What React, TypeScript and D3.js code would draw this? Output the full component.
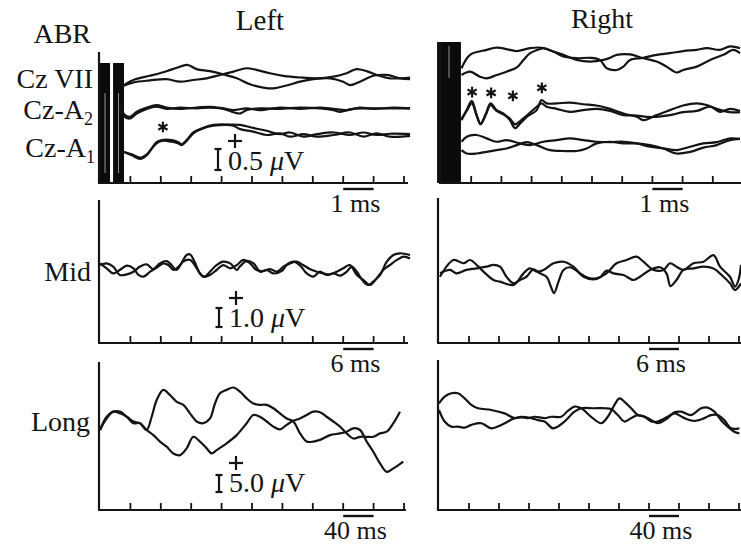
import * as d3 from 'd3';

// ---- data: [time (ms), amplitude (µV)] ----
const abrChannels = ['Cz VII', 'Cz-A2', 'Cz-A1'];

const abrLeftVII_1 = [[0.71,-0.16],[1.1,0],[1.64,0.1],[2.19,0.21],[2.52,0.29],[2.87,0.36],[3.18,0.26],[3.62,0.21],[4.06,0.13],[4.5,0.04],[4.93,-0.1],[5.37,-0.18],[5.7,-0.2],[6.14,-0.13],[6.58,-0.04],[7.02,0.02],[7.57,0.04],[8.0,-0.04],[8.22,-0.12],[8.55,-0.04],[8.99,0.1],[9.43,0.12],[9.87,0.04],[10.2,0.02]];
const abrLeftVII_2 = [[0.71,-0.16],[1.1,-0.06],[1.64,-0.01],[2.19,0.02],[2.63,-0.04],[3.07,0],[3.51,0.04],[3.95,0.12],[4.39,0.2],[4.82,0.28],[5.15,0.24],[5.59,0.16],[6.03,0.1],[6.58,0.06],[7.13,0.04],[7.68,0.08],[8.11,0.16],[8.44,0.26],[8.77,0.21],[9.1,0.12],[9.54,0.04],[10.2,0.06]];
const abrLeftA2_1 = [[0.66,0.07],[0.82,-0.21],[0.99,-0.25],[1.21,-0.13],[1.54,-0.02],[1.86,0.03],[2.19,-0.02],[2.63,0.01],[3.18,-0.01],[3.62,0.01],[4.06,-0.02],[4.39,-0.1],[4.61,-0.13],[4.82,-0.05],[5.26,-0.01],[5.92,-0.02],[6.58,0.01],[7.24,-0.01],[7.68,-0.05],[7.89,-0.09],[8.33,-0.02],[8.99,-0.01],[9.65,-0.01],[10.2,-0.01]];
const abrLeftA2_2 = [[0.66,0.07],[0.82,-0.17],[0.99,-0.21],[1.21,-0.09],[1.54,0.01],[1.86,0.07],[2.19,0.01],[2.63,-0.02],[3.18,0.01],[3.62,0.03],[4.06,-0.01],[4.39,-0.05],[4.82,-0.01],[5.26,-0.05],[5.92,0.01],[6.58,-0.02],[7.24,0.01],[7.68,-0.02],[8.11,-0.05],[8.55,0.01],[8.99,-0.02],[9.65,0.01],[10.2,-0.01]];
const abrLeftA1_1 = [[0.77,-0.4],[1.04,-0.48],[1.32,-0.57],[1.54,-0.48],[1.7,-0.32],[1.86,-0.17],[2.03,-0.12],[2.36,-0.12],[2.58,-0.17],[2.69,-0.22],[2.85,-0.12],[3.07,0.06],[3.4,0.17],[3.73,0.24],[4.17,0.25],[4.61,0.24],[5.04,0.17],[5.48,0.1],[5.92,0.02],[6.25,0.06],[6.69,-0.04],[7.13,0.02],[7.68,0.06],[8.22,0],[8.66,0.06],[9.1,0],[9.54,0.03],[10.2,0.02]];
const abrLeftA1_2 = [[0.77,-0.4],[1.04,-0.46],[1.32,-0.54],[1.54,-0.46],[1.7,-0.33],[1.86,-0.2],[2.03,-0.14],[2.36,-0.16],[2.58,-0.2],[2.69,-0.24],[2.85,-0.14],[3.07,0.04],[3.4,0.16],[3.73,0.22],[4.17,0.24],[4.39,0.22],[4.61,0.14],[5.04,0.08],[5.48,0],[5.92,0.04],[6.25,-0.04],[6.69,0.02],[7.13,-0.04],[7.68,0],[8.22,0.06],[8.66,-0.04],[9.1,0.04],[9.54,-0.04],[10.2,-0.02]];

const abrRightVII_1 = [[0.68,-0.15],[0.96,0.17],[1.51,0.29],[1.84,0.34],[2.28,0.29],[2.51,0.26],[2.95,0.33],[3.33,0.34],[3.72,0.25],[4.05,0.13],[4.49,0.09],[4.93,0.1],[5.26,0.05],[5.49,-0.15],[5.82,-0.19],[6.04,-0.11],[6.26,0.05],[6.7,0.1],[7.14,0.17],[7.58,0.21],[8.02,0.26],[8.47,0.29],[8.8,0.33],[9.24,0.29],[9.57,0.37],[9.9,0.33]];
const abrRightVII_2 = [[0.68,-0.31],[0.96,-0.23],[1.29,-0.35],[1.51,-0.39],[1.84,-0.31],[2.17,-0.23],[2.51,-0.13],[2.73,0.05],[2.95,0.21],[3.28,0.31],[3.39,0.33],[3.72,0.25],[4.05,0.17],[4.49,0.05],[4.93,0.01],[5.38,0.05],[5.6,0.1],[5.82,0.17],[6.26,0.18],[6.7,0.09],[7.14,0.01],[7.47,-0.11],[7.8,-0.25],[8.02,-0.19],[8.47,-0.11],[8.91,0.05],[9.35,0.17],[9.68,0.29],[9.9,0.21]];
const abrRightA2_1 = [[0.68,-0.29],[0.85,-0.05],[1.02,0.17],[1.18,-0.17],[1.31,-0.39],[1.49,-0.13],[1.64,0.11],[1.84,-0.05],[2.06,-0.13],[2.28,-0.29],[2.45,-0.48],[2.62,-0.37],[2.84,-0.21],[3.17,-0.05],[3.33,0.19],[3.5,0.11],[3.83,0.11],[4.27,0.13],[4.71,0.09],[5.15,0.06],[5.6,-0.02],[6.04,-0.13],[6.48,-0.21],[6.7,-0.29],[7.14,-0.17],[7.58,-0.05],[8.02,0.06],[8.47,0.11],[8.8,0.07],[9.13,-0.02],[9.57,-0.1],[9.9,-0.1]];
const abrRightA2_2 = [[0.68,-0.25],[0.85,-0.07],[1.02,0.11],[1.18,-0.18],[1.31,-0.37],[1.49,-0.15],[1.64,0.07],[1.84,-0.07],[2.06,-0.15],[2.28,-0.25],[2.45,-0.39],[2.62,-0.31],[2.84,-0.18],[3.17,0.03],[3.33,0.11],[3.5,0.03],[3.83,-0.02],[4.27,-0.09],[4.71,-0.05],[5.15,-0.02],[5.6,-0.07],[6.04,-0.17],[6.48,-0.18],[6.81,-0.21],[7.14,-0.21],[7.58,-0.17],[8.02,-0.1],[8.47,-0.07],[8.91,0.03],[9.24,-0.09],[9.57,-0.02],[9.9,-0.07]];
const abrRightA1_1 = [[0.68,0.03],[0.85,0.15],[1.18,0.19],[1.51,0.11],[1.84,0.03],[2.17,0.07],[2.62,-0.01],[2.95,-0.05],[3.39,0.03],[3.83,0.07],[4.27,0.11],[4.71,0.07],[5.15,0.03],[5.6,0.02],[6.04,0.03],[6.48,-0.01],[6.92,-0.09],[7.36,-0.13],[7.8,-0.17],[8.25,-0.09],[8.69,-0.01],[9.13,0.02],[9.57,0.11],[9.9,0.1]];
const abrRightA1_2 = [[0.68,-0.17],[0.85,-0.25],[1.18,-0.25],[1.51,-0.21],[1.84,-0.17],[2.17,-0.13],[2.51,-0.05],[2.84,0.02],[3.17,-0.05],[3.61,-0.17],[4.05,-0.19],[4.49,-0.19],[4.82,-0.13],[5.15,-0.01],[5.6,0.03],[6.04,-0.01],[6.48,-0.01],[6.92,-0.05],[7.36,-0.13],[7.8,-0.25],[8.25,-0.21],[8.69,-0.11],[9.13,-0.05],[9.57,0.07],[9.9,0.1]];

const midLeft_1 = [[0,0.35],[1.3,0.09],[2.6,-0.18],[3.9,0],[5.3,0.23],[6.6,0.09],[7.6,-0.26],[8.6,-0.35],[9.9,-0.09],[11.5,0.18],[12.5,0.35],[13.5,0.26],[14.5,0],[15.8,0.26],[17.1,0.79],[17.8,0.82],[18.8,0.35],[19.7,-0.18],[20.7,-0.35],[21.7,-0.09],[23.0,0.26],[24.3,0.44],[25.7,0.35],[27.0,0],[27.6,0.18],[28.9,0.47],[30.3,0.35],[31.6,-0.09],[32.9,0],[34.2,-0.18],[35.9,-0.05],[36.8,0.26],[38.2,0.44],[39.5,0.23],[40.8,-0.18],[42.1,-0.35],[43.4,-0.09],[44.7,-0.26],[46.1,-0.18],[47.4,-0.3],[48.7,-0.09],[49.7,0.18],[50.7,-0.09],[52.0,-0.61],[53.0,-0.79],[53.9,-0.61],[55.3,-0.26],[56.6,0.44],[57.9,0.79],[59.2,0.88],[61.2,0.79]];
const midLeft_2 = [[0,0.26],[1.3,0.35],[2.6,0.18],[3.9,-0.26],[5.3,-0.23],[6.6,-0.09],[7.9,0.18],[9.2,0.3],[10.5,0.05],[11.8,0.35],[13.2,0.47],[14.1,0.26],[15.1,0],[16.4,0.44],[17.8,0.53],[19.1,0.09],[20.4,-0.35],[21.7,-0.26],[23.0,0],[24.3,0.26],[25.7,0.09],[27.0,0.26],[28.3,0.53],[29.6,0.35],[30.9,0],[32.2,-0.05],[33.6,0.05],[34.9,-0.09],[36.2,0.18],[37.5,0.35],[38.8,0.44],[40.1,0.26],[41.4,0.05],[42.8,-0.09],[44.1,-0.18],[45.4,-0.23],[46.7,-0.09],[48.0,0.09],[49.3,0.26],[50.7,-0.26],[52.0,-0.53],[53.3,-0.79],[54.6,-0.44],[55.9,0],[57.2,0.26],[58.6,0.53],[59.9,0.7],[61.2,0.61]];
const midRight_1 = [[0.2,-0.25],[2.9,0.63],[4.9,0.46],[6.2,0.63],[7.9,0.28],[8.9,0.02],[10.9,-0.42],[12.2,-0.51],[14.9,-0.68],[16.9,-0.07],[18.2,0.19],[19.5,0.02],[20.9,0.11],[22.9,0.46],[24.9,0.54],[26.9,0.28],[28.2,-0.07],[30.2,-0.33],[31.5,-0.33],[33.5,-0.07],[35.5,0.46],[37.5,0.63],[39.5,0.81],[40.9,0.54],[42.9,0.11],[44.9,0.11],[46.2,0.46],[47.5,0.28],[48.9,0.11],[50.9,0.46],[52.9,0.54],[54.9,0.89],[56.2,0.28],[58.2,-0.25],[59.2,-0.77],[59.9,-0.42],[60.4,0.37]];
const midRight_2 = [[0.2,-0.07],[2.2,0.11],[3.5,-0.07],[5.5,0.11],[7.5,0.19],[9.5,0.28],[10.9,0.37],[12.2,0.28],[13.5,-0.25],[14.9,-0.6],[16.2,-0.42],[17.5,-0.25],[18.9,0.14],[20.2,-0.07],[21.5,-0.25],[22.5,-0.86],[23.0,-1.12],[23.9,-0.51],[24.9,0.11],[26.2,0.25],[27.5,0.07],[28.9,-0.25],[30.9,-0.39],[32.2,-0.28],[33.5,0.07],[34.9,-0.07],[36.9,-0.16],[38.9,-0.42],[40.2,-0.25],[42.2,0.11],[44.2,0.25],[45.5,-0.07],[46.3,-0.74],[47.5,-0.42],[48.9,0.11],[50.9,0.19],[52.9,0.28],[54.9,0.19],[56.9,-0.25],[58.2,-0.6],[59.2,-0.95],[60.4,-0.6]];

const longLeft_1 = [[0,0],[8.8,3.4],[17.5,5.4],[26.3,4.9],[35.1,3.9],[43.9,2.5],[52.6,2.0],[61.4,0],[68.0,3.9],[74.6,8.8],[83.3,11.8],[92.1,10.3],[100.9,8.3],[109.6,7.4],[118.4,4.9],[127.2,2.5],[136.0,2.0],[144.7,3.4],[151.3,7.8],[157.9,10.8],[166.7,11.8],[175.4,12.5],[184.2,11.3],[193.0,9.3],[201.8,7.8],[210.5,7.4],[219.3,7.4],[228.1,6.4],[236.8,4.9],[245.6,3.4],[254.4,2.5],[263.2,-1.0],[271.9,-3.4],[280.7,-3.4],[289.5,-2.9],[302.6,-1.5],[315.8,-1.0],[324.6,-0.5],[333.3,0.5],[342.1,0],[350.9,-3.4],[359.6,-6.4],[368.4,-9.8],[377.2,-12.3],[386.0,-11.3],[399.1,-9.3]];
const longLeft_2 = [[0,0],[8.8,3.9],[17.5,5.4],[26.3,5.4],[35.1,3.9],[43.9,2.0],[52.6,2.0],[61.4,0],[70.2,-1.5],[78.9,-3.4],[87.7,-4.9],[96.5,-6.9],[105.3,-7.4],[114.0,-5.4],[122.8,-2.0],[131.6,-3.4],[140.4,-5.4],[146.9,-6.9],[153.5,-5.9],[166.7,-3.9],[179.8,-1.5],[193.0,2.0],[201.8,4.4],[210.5,3.9],[219.3,2.5],[228.1,1.0],[236.8,0.2],[245.6,1.5],[254.4,2.7],[263.2,3.4],[271.9,4.4],[280.7,5.4],[289.5,5.2],[298.2,3.9],[307.0,2.5],[315.8,1.0],[324.6,-1.0],[333.3,-2.5],[342.1,-2.0],[350.9,-2.0],[359.6,-2.0],[368.4,-1.0],[377.2,-0.5],[386.0,2.0],[394.7,5.4]];
const longRight_1 = [[0,2.5],[7.5,4.5],[16.4,5.5],[25.3,5.5],[34.2,4.0],[43.1,2.1],[52.0,1.1],[69.7,0.6],[87.5,-0.4],[100.8,-1.8],[109.7,-1.4],[123.0,-1.8],[131.9,-2.4],[140.7,-2.8],[151.8,-4.8],[158.5,-4.3],[167.4,-2.8],[180.7,0.1],[189.6,1.1],[207.3,1.1],[220.7,1.1],[229.5,0.9],[238.4,-0.9],[247.3,-2.8],[256.2,-1.8],[265.1,-0.9],[278.4,-1.8],[291.7,-3.3],[305.0,-1.8],[313.9,-0.1],[322.8,0.1],[336.1,-0.9],[349.4,1.1],[358.3,1.3],[367.2,0.1],[376.1,-2.4],[384.9,-4.3],[393.8,-5.8],[400.5,-6.3]];
const longRight_2 = [[0,0.6],[7.5,-2.8],[16.4,-4.3],[25.3,-4.3],[34.2,-4.6],[43.1,-3.8],[56.4,-3.3],[69.7,-4.8],[83.0,-3.8],[91.9,-2.8],[100.8,-1.8],[109.7,-1.6],[118.5,-1.8],[127.4,-1.4],[140.7,-1.8],[149.6,-1.4],[162.9,-1.4],[171.8,0.3],[180.7,1.6],[189.6,1.1],[202.9,-1.4],[216.2,-3.3],[225.1,-1.4],[234.0,2.1],[240.6,4.0],[247.3,3.0],[256.2,1.1],[265.1,-0.9],[274.0,-1.4],[282.8,-2.8],[291.7,-2.8],[305.0,-1.4],[313.9,-0.4],[327.2,-1.8],[340.5,-2.6],[353.8,-1.8],[362.7,-0.9],[371.6,-0.9],[380.5,-2.4],[389.4,-4.8],[400.5,-4.8]];

// asterisks: [channel index, ms, µV]
const starsLeft = [[2, 2.07, 0.19]];
const starsRight = [[1, 1.03, 0.38], [1, 1.66, 0.36], [1, 2.38, 0.29], [1, 3.34, 0.48]];

// stimulus artifact windows (ms)
const artifactLeft = [[0, 0.33], [0.43, 0.79]];
const artifactRight = [[-0.13, 0.66]];

const rowNames = ['ABR', 'Mid', 'Long'];
const tickUnits = [1, 6, 40]; // ms per tick
const calibUV = [0.5, 1.0, 5.0];
const calibText = ['0.5', '1.0', '5.0'];

const FONT = '"Liberation Serif", "Times New Roman", serif';
const INK = '#141414';

export default function App() {
  const W = 741, H = 545;
  // layout per row: [left, right]
  const rows = [
    { pxPerUV: 42, panels: [
      { x0: 100, x1: 408, tick: 30.4, top: 52, base: 183, bar: 8, bases: [80, 108, 135], traces: [[abrLeftVII_1, abrLeftVII_2], [abrLeftA2_1, abrLeftA2_2], [abrLeftA1_1, abrLeftA1_2]], stars: starsLeft, art: artifactLeft, artTop: 63, gap: [30, 10] },
      { x0: 441, x1: 741, tick: 30.2, top: 42, base: 183, bar: 7, bases: [62, 108, 143], traces: [[abrRightVII_1, abrRightVII_2], [abrRightA2_1, abrRightA2_2], [abrRightA1_1, abrRightA1_2]], stars: starsRight, art: artifactRight, artTop: 42, gap: [4, 105] },
    ], calib: { x: 218, y: 170 } },
    { pxPerUV: 19, panels: [
      { x0: 100, x1: 408, tick: 30.4, top: 200, base: 343, bar: 8, bases: [270], traces: [[midLeft_1, midLeft_2]] },
      { x0: 439, x1: 741, tick: 30, top: 198, base: 343, bar: 7, bases: [272], traces: [[midRight_1, midRight_2]] },
    ], calib: { x: 219, y: 327 } },
    { pxPerUV: 3.4, panels: [
      { x0: 100, x1: 406, tick: 30.4, top: 362, base: 510, bar: 8, bases: [430], traces: [[longLeft_1, longLeft_2]] },
      { x0: 439, x1: 741, tick: 30, top: 360, base: 510, bar: 7, bases: [412], traces: [[longRight_1, longRight_2]] },
    ], calib: { x: 219, y: 492 } },
  ];

  const star = d3.symbol(d3.symbolAsterisk, 80)() as string;

  return (
    <svg width={W} height={H} style={{ position: 'absolute', left: 0, top: 0, background: '#fff' }}
      fontFamily={FONT} fill={INK}>
      <defs>
        {rows.map((r, ri) => r.panels.map((p, pi) => (
          <clipPath key={`c${ri}${pi}`} id={`clip${ri}${pi}`}>
            <rect x={p.x0} y={p.top - 20} width={W - p.x0} height={p.base - p.top + 20} />
          </clipPath>
        )))}
      </defs>

      <text x={260} y={30} fontSize={29} textAnchor="middle">Left</text>
      <text x={602} y={28} fontSize={28} textAnchor="middle">Right</text>

      <g fontSize={28} textAnchor="end">
        <text x={91} y={43}>ABR</text>
        <text x={93} y={88}>Cz VII</text>
        <text x={93} y={119}>Cz-A<tspan fontSize={18} dy={6}>2</tspan></text>
        <text x={95} y={157}>Cz-A<tspan fontSize={18} dy={6}>1</tspan></text>
        <text x={91} y={281}>{rowNames[1]}</text>
        <text x={90} y={431}>{rowNames[2]}</text>
      </g>

      {rows.map((r, ri) => {
        const unit = tickUnits[ri];
        const amp = d3.scaleLinear().domain([0, 1]).range([0, -r.pxPerUV]);
        const c = r.calib;
        const barH = -amp(calibUV[ri]);
        return (
          <g key={ri}>
            {r.panels.map((p, pi) => {
              const x = d3.scaleLinear().domain([0, 10 * unit]).range([p.x0, p.x0 + 10 * p.tick]);
              const ticks = d3.range(1, 11).map(k => k * unit).filter(t => x(t) <= W - 1);
              return (
                <g key={pi}>
                  {/* stimulus artifact */}
                  {p.art && p.art.map((a, i) => (
                    <g key={i}>
                      <rect x={x(a[0])} y={p.artTop} width={x(a[1]) - x(a[0])} height={p.base - p.artTop} fill="#0b0b0b" />
                      <line x1={(x(a[0]) + x(a[1])) / 2} x2={(x(a[0]) + x(a[1])) / 2} y1={p.artTop + p.gap[0]} y2={p.base - p.gap[1]}
                        stroke="#fff" strokeWidth={0.8} opacity={0.7} />
                    </g>
                  ))}
                  <g clipPath={`url(#clip${ri}${pi})`} fill="none" stroke={INK} strokeWidth={2.2} strokeLinejoin="round">
                    {p.traces.map((pair, ci) => {
                      const base = p.bases[ci];
                      const line = d3.line<number[]>()
                        .x(d => x(d[0]))
                        .y(d => base + amp(d[1]))
                        .curve(d3.curveCatmullRom.alpha(0.5));
                      return pair.map((tr, ti) => <path key={`${ci}-${ti}`} d={line(tr) as string} />);
                    })}
                  </g>
                  {p.stars && p.stars.map((s, i) => (
                    <path key={i} d={star} transform={`translate(${x(s[1])},${p.bases[s[0]] + amp(s[2])})`}
                      fill="none" stroke={INK} strokeWidth={2.2} />
                  ))}
                  {/* axes */}
                  <line x1={p.x0 - 1} x2={p.x0 - 1} y1={p.top} y2={p.base} stroke={INK} strokeWidth={2.2} />
                  <line x1={p.x0 - 2} x2={p.x1} y1={p.base} y2={p.base} stroke={INK} strokeWidth={2.2} />
                  {ticks.map(t => (
                    <line key={t} x1={x(t)} x2={x(t)} y1={p.base} y2={p.base - 7} stroke={INK} strokeWidth={1.8} />
                  ))}
                  {/* time scale bar */}
                  <line x1={x(p.bar * unit)} x2={x((p.bar + 1) * unit)} y1={p.base + 6} y2={p.base + 6} stroke={INK} strokeWidth={2.4} />
                  <text x={(x(p.bar * unit) + x((p.bar + 1) * unit)) / 2 - 3} y={p.base + 29} fontSize={26} textAnchor="middle">
                    {unit} ms
                  </text>
                </g>
              );
            })}
            {/* amplitude calibration */}
            <g stroke={INK} strokeWidth={2.2}>
              <line x1={c.x} x2={c.x} y1={c.y} y2={c.y - barH} />
              <line x1={c.x - 3.5} x2={c.x + 3.5} y1={c.y} y2={c.y} />
              <line x1={c.x - 3.5} x2={c.x + 3.5} y1={c.y - barH} y2={c.y - barH} />
              <line x1={c.x + 10} x2={c.x + 24} y1={c.y - 29} y2={c.y - 29} />
              <line x1={c.x + 17} x2={c.x + 17} y1={c.y - 36} y2={c.y - 22} />
            </g>
            <text x={c.x + 10} y={c.y} fontSize={28}>
              {calibText[ri]} <tspan fontStyle="italic">μ</tspan>V
            </text>
          </g>
        );
      })}
    </svg>
  );
}
